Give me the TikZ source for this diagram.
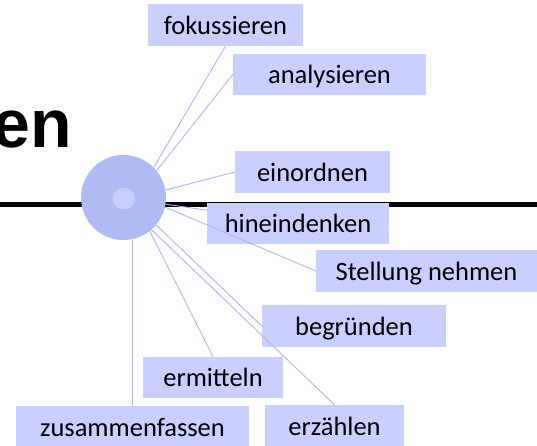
\documentclass[tikz,border=0pt]{standalone}
\usepackage{fontspec}
\setmainfont{Carlito}
\newfontfamily\titlefont{Liberation Sans}
\definecolor{boxfill}{RGB}{201,208,255}
\definecolor{hubfill}{RGB}{176,186,245}
\definecolor{hubcore}{RGB}{201,208,255}
\definecolor{linkcol}{RGB}{172,180,242}

\begin{document}
\begin{tikzpicture}[x=1pt,y=-1pt,
		verb/.style={fill=boxfill,inner sep=0pt,minimum height=42pt,text height=23pt,text depth=5pt,font=\fontsize{26.5}{29}\selectfont},
		link/.style={draw=linkcol,line width=0.9pt}]
		\useasboundingbox (0,0) rectangle (537,445);
		\clip (0,0) rectangle (537,445);
		% Titel und Linie
		\node[anchor=base east,inner sep=0pt,font=\titlefont\fontsize{68}{70}\selectfont\bfseries] (title) at (72.5,147) {en};
		\draw[line width=5pt] (0,204.5) -- (537,204.5);
		
		% Mitte
		\node[circle,fill=hubfill,minimum size=85pt,inner sep=0pt] (hub) at (123.5,197.5) {};
		\node[circle,fill=hubcore,minimum size=22pt,inner sep=0pt] (core) at (123.8,198.5) {};
		
		% Verben
		\node[verb,minimum width=155pt] (fok) at (225.5,25) {fokussieren};
		\node[verb,minimum width=193pt,minimum height=41pt] (ana) at (329.5,74.5) {analysieren};
		\node[verb,minimum width=155pt] (ein) at (312.5,172) {einordnen};
		\node[verb,minimum width=182pt,minimum height=41pt] (hin) at (298,223.5) {hineindenken};
		\node[verb,minimum width=221pt] (ste) at (426.5,271) {Stellung nehmen};
		\node[verb,minimum width=184pt] (beg) at (354,326) {begründen};
		\node[verb,minimum width=140pt,minimum height=41pt] (erm) at (213,377.5) {ermitteln};
		\node[verb,minimum width=233pt] (zus) at (132.5,427) {zusammenfassen};
		\node[verb,minimum width=139pt] (erz) at (334.5,426) {erzählen};
		
		\path[link]
		(hub.45) edge (fok.south)
		(hub.39) edge (ana.west)
		(hub.10) edge (ein.west)
		(hub.-9) edge (hin)
		(hub.-13) edge (ste.west)
		(hub.-40) edge (beg.west)
		(hub.-49) edge (erz.north)
		(hub.-52) edge (erm.north)
		(zus.north) edge (zus.north |- hub.south);
		
\end{tikzpicture}
\end{document}
